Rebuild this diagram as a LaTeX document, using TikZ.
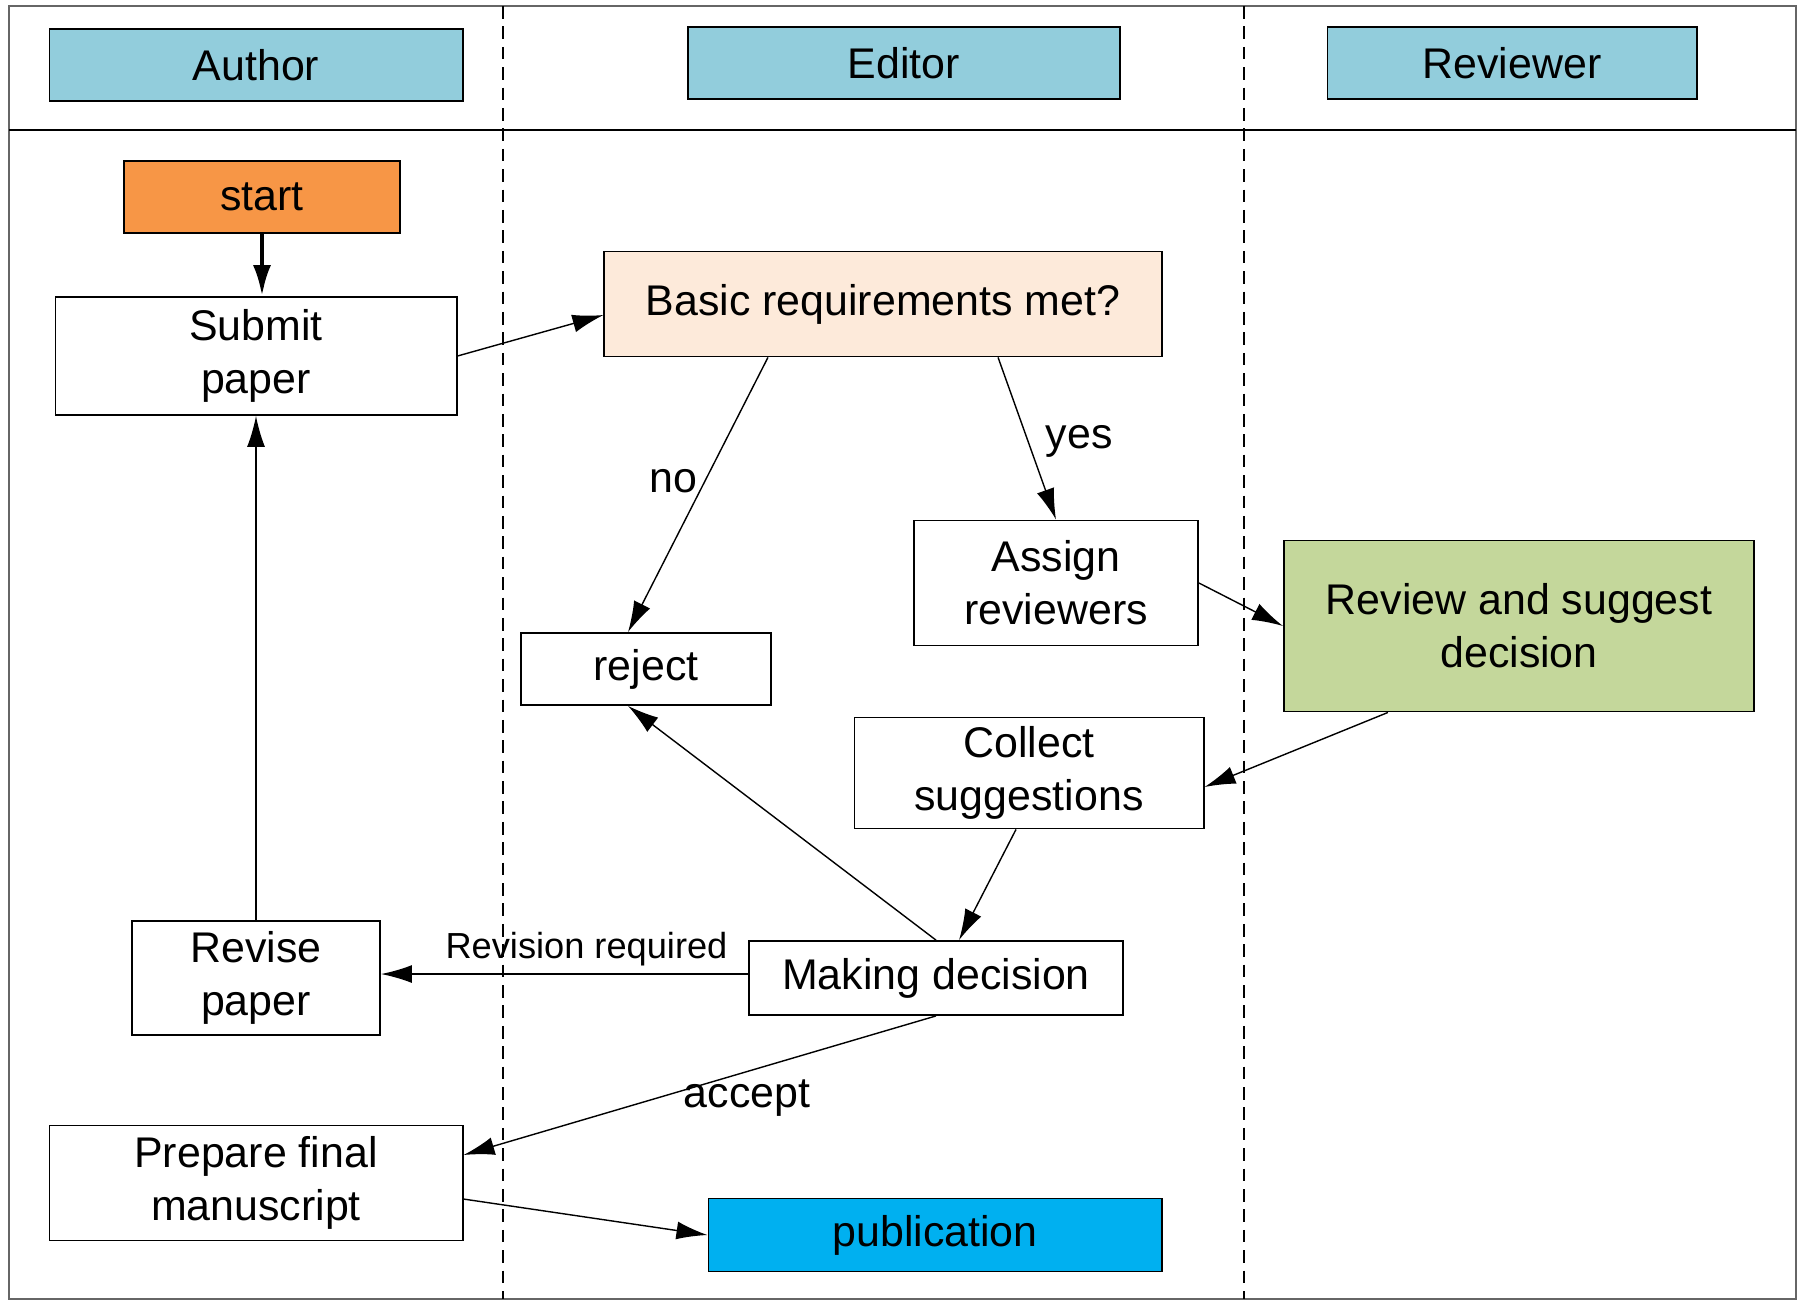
\documentclass[tikz,border=0pt]{standalone}
\usepackage{fontspec}
\setmainfont{Liberation Sans}
\usetikzlibrary{arrows.meta}

\definecolor{lanecolor}{HTML}{92CDDC}
\definecolor{startcolor}{HTML}{F79646}
\definecolor{checkcolor}{HTML}{FDEADA}
\definecolor{reviewcolor}{HTML}{C4D79B}
\definecolor{pubcolor}{HTML}{00B0F0}

\tikzset{
	box/.style={draw, line width=0.5pt, inner sep=0pt, align=center,
		font=\fontsize{12.2}{15}\selectfont},
	lanehead/.style={box, fill=lanecolor, minimum height=0.72cm},
	edgelabel/.style={font=\fontsize{12.2}{15}\selectfont, inner sep=2pt},
	lane/.style={dash pattern=on 3.6pt off 2.2pt, line width=0.7pt},
	>={Latex[length=3.1mm,width=1.8mm]}
}

\begin{document}
\begin{tikzpicture}[x=0.01cm, y=-0.01cm]
		\useasboundingbox (0,0) rectangle (1798,1299);

		% lanes
		\draw [gray!80!black, line width=0.8pt](9,6) rectangle (1796,1299);
		\draw [line width=0.8pt](9,130) -- (1796,130);
		\draw [lane](503,6) -- (503,1299);
		\draw [lane](1244,6) -- (1244,1299);

		\node (author)[lanehead, minimum width=4.13cm]at (256,65)  {Author};
		\node (editor)[lanehead, minimum width=4.32cm]at (904,63)  {Editor};
		\node (reviewer)[lanehead, minimum width=3.69cm]at (1512,63)  {Reviewer};

		% steps
		\node (start)[box, fill=startcolor, minimum width=2.76cm, minimum height=0.72cm]at (262,197)  {start};
		\node (submit)[box, minimum width=4.01cm, minimum height=1.18cm]at (256,356)  {Submit\\paper};
		\node (basic)[box, fill=checkcolor, minimum width=5.57cm, minimum height=1.05cm]at (883,304)  {Basic requirements met?};
		\node (assign)[box, minimum width=2.84cm, minimum height=1.25cm]at (1056,583)  {Assign\\reviewers};
		\node (reject)[box, minimum width=2.50cm, minimum height=0.72cm]at (646,669)  {reject};
		\node (review)[box, fill=reviewcolor, minimum width=4.70cm, minimum height=1.71cm]at (1519,626)  {Review and suggest\\decision};
		\node (collect)[box, minimum width=3.49cm, minimum height=1.11cm]at (1029,773)  {Collect\\suggestions};
		\node (making)[box, minimum width=3.74cm, minimum height=0.74cm]at (936,978)  {Making decision};
		\node (revise)[box, minimum width=2.48cm, minimum height=1.14cm]at (256,978)  {Revise\\paper};
		\node (prepare)[box, minimum width=4.13cm, minimum height=1.15cm]at (256,1183)  {Prepare final\\manuscript};
		\node (publication)[box, fill=pubcolor, minimum width=4.53cm, minimum height=0.73cm]at (935,1235)  {publication};

		% flow
		\draw [->, line width=1.2pt](start.south) -- (start.south |- submit.north);
		\draw [->](submit.east) -- ([yshift=-1.1mm]basic.west);
		\draw [->]([xshift=-11.5mm]basic.south) -- node[edgelabel, left, pos=0.45]{no} ([xshift=-1.8mm]reject.north);
		\draw [->]([xshift=11.5mm]basic.south) -- node[edgelabel, right, pos=0.52, xshift=1mm]{yes} (assign.north);
		\draw [->](assign.east) -- (review.west);
		\draw [->]([xshift=-13.1mm]review.south) -- ([yshift=-1.4mm]collect.east);
		\draw [->]([xshift=-1.3mm]collect.south) -- ([xshift=2.3mm]making.north);
		\draw [->](making.north) -- ([xshift=-1.8mm]reject.south);
		\draw [->]([yshift=0.4mm]making.west) -- node[above, pos=0.44, inner sep=2pt, font=\fontsize{10.3}{12}\selectfont]{Revision required} ([yshift=0.4mm]revise.east);
		\draw [->](revise.north) -- (submit.south);
		\draw [->](making.south) -- node[edgelabel, below, pos=0.4]{accept} ([yshift=2.8mm]prepare.east);
		\draw [->]([yshift=-1.6mm]prepare.east) -- (publication.west);
	\end{tikzpicture}
\end{document}
